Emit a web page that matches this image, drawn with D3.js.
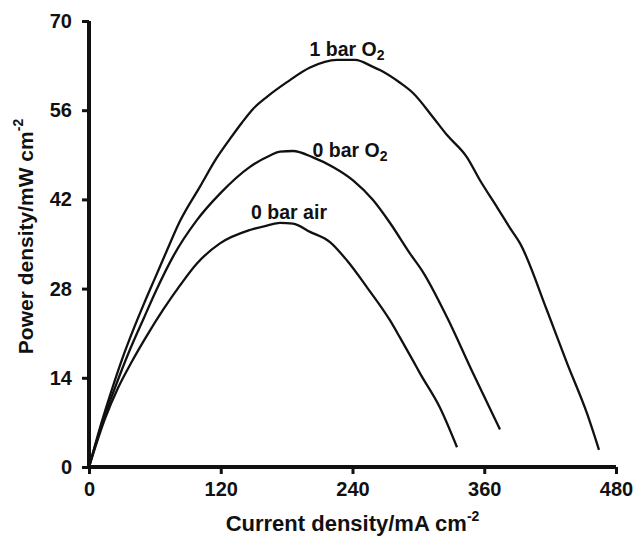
<!DOCTYPE html>
<html>
<head>
<meta charset="utf-8">
<script src="https://cdn.jsdelivr.net/npm/d3@7/dist/d3.min.js"></script>
<style>
  html, body { margin: 0; padding: 0; background: #fff; }
  svg { display: block; }
  text { font-family: "Liberation Sans", Arial, Helvetica, sans-serif; font-weight: bold; fill: #111; }
</style>
</head>
<body>
<svg id="chart" width="635" height="537"></svg>
<script>
// Power density (mW cm^-2) vs current density (mA cm^-2) for three cathode feeds
const xTicks = [0, 120, 240, 360, 480];
const yTicks = [0, 14, 28, 42, 56, 70];

const current1barO2 = [0, 11.8, 20.9, 30.1, 40.0, 50.0, 60.0, 70.0, 82.9, 101.1, 116.3, 128.4, 139.1, 149.4, 162.1, 180.3, 201.3, 225.9, 242.3, 258.7, 265.0, 283.3, 295.1, 313.3, 326.1, 344.3, 356.1, 371.6, 383.5, 392.6, 417.1, 435.4, 453.6, 464.5];
const power1barO2   = [0, 7.2, 12.2, 16.9, 21.4, 25.6, 29.6, 33.6, 38.6, 44.0, 48.5, 51.5, 54.0, 56.2, 58.1, 60.4, 62.7, 63.9, 63.9, 62.8, 62.3, 60.3, 58.7, 54.9, 52.1, 48.6, 45.0, 40.8, 37.5, 35.1, 24.6, 16.3, 8.4, 2.7];

const current0barO2 = [0, 13.0, 24.0, 36.0, 50.0, 61.7, 76.8, 98.1, 119.3, 146.6, 164.9, 174.0, 185.8, 204.0, 222.2, 240.5, 258.7, 274.2, 292.4, 304.2, 326.1, 349.8, 374.3];
const power0barO2   = [0, 7.4, 12.6, 17.9, 23.4, 27.9, 33.1, 38.7, 42.9, 47.1, 48.9, 49.5, 49.6, 48.6, 47.1, 45.0, 41.9, 38.3, 33.5, 30.6, 23.5, 14.7, 5.9];

const current0barAir = [0, 14.6, 26.4, 39.2, 53.7, 68.0, 82.9, 98.1, 119.3, 146.6, 162.1, 174.0, 185.8, 201.3, 219.5, 235.0, 253.2, 274.2, 283.3, 295.1, 301.5, 319.7, 335.2];
const power0barAir   = [0, 7.6, 12.4, 16.6, 20.9, 24.8, 28.5, 31.9, 35.1, 37.2, 37.9, 38.3, 38.2, 36.9, 35.3, 32.4, 28.2, 23.0, 20.3, 16.7, 14.7, 9.3, 3.1];

const series = [
  { name: "1 bar O", sub: "2", x: current1barO2, y: power1barO2, labelAt: [235.0, 64.5] },
  { name: "0 bar O", sub: "2", x: current0barO2, y: power0barO2, labelAt: [237.8, 48.6] },
  { name: "0 bar air", sub: "", x: current0barAir, y: power0barAir, labelAt: [182.2, 38.9] }
];

const svg = d3.select("#chart");
const x = d3.scaleLinear().domain([0, 480]).range([89, 616]);
const y = d3.scaleLinear().domain([0, 70]).range([467, 21]);

// axes
const xAxis = svg.append("g").attr("transform", `translate(0,${y(0)})`)
  .call(d3.axisBottom(x).tickValues(xTicks).tickSize(7).tickPadding(8).tickSizeOuter(0));
const yAxis = svg.append("g").attr("transform", `translate(${x(0)},0)`)
  .call(d3.axisLeft(y).tickValues(yTicks).tickSize(7).tickPadding(10).tickSizeOuter(0));

[xAxis, yAxis].forEach(g => {
  g.select(".domain").attr("stroke", "#111").attr("stroke-width", 4);
  g.selectAll(".tick line").attr("stroke", "#111").attr("stroke-width", 3);
  g.selectAll(".tick text").style("font-size", "20px").style("font-family", '"Liberation Sans", Arial, sans-serif').style("font-weight", "bold").attr("fill", "#111");
});
// extend the axis lines so they join squarely at the origin
xAxis.select(".domain").attr("d", `M${x(0) - 2},0H${x(480)}`);
yAxis.select(".domain").attr("d", `M0,${y(70)}V${y(0) + 2}`);

// curves
const line = d3.line().curve(d3.curveMonotoneX);
series.forEach(s => {
  const pts = s.x.map((v, i) => [x(v), y(s.y[i])]);
  svg.append("path").attr("d", line(pts))
    .attr("fill", "none").attr("stroke", "#111").attr("stroke-width", 2.3)
    .attr("stroke-linejoin", "round");

  const t = svg.append("text")
    .attr("x", x(s.labelAt[0])).attr("y", y(s.labelAt[1]))
    .attr("text-anchor", "middle").style("font-size", "19.5px");
  t.append("tspan").text(s.name);
  if (s.sub) t.append("tspan").attr("dy", 4).style("font-size", "14px").text(s.sub);
});

// axis titles
const xt = svg.append("text").attr("x", x(240)).attr("y", 531)
  .attr("text-anchor", "middle").style("font-size", "22px");
xt.append("tspan").text("Current density/mA cm");
xt.append("tspan").attr("dy", -10).style("font-size", "14px").text("-2");

const yt = svg.append("text")
  .attr("transform", "translate(33,236.5) rotate(-90)")
  .attr("text-anchor", "middle").style("font-size", "21px");
yt.append("tspan").text("Power density/mW cm");
yt.append("tspan").attr("dy", -10).style("font-size", "14px").text("-2");
</script>
</body>
</html>
